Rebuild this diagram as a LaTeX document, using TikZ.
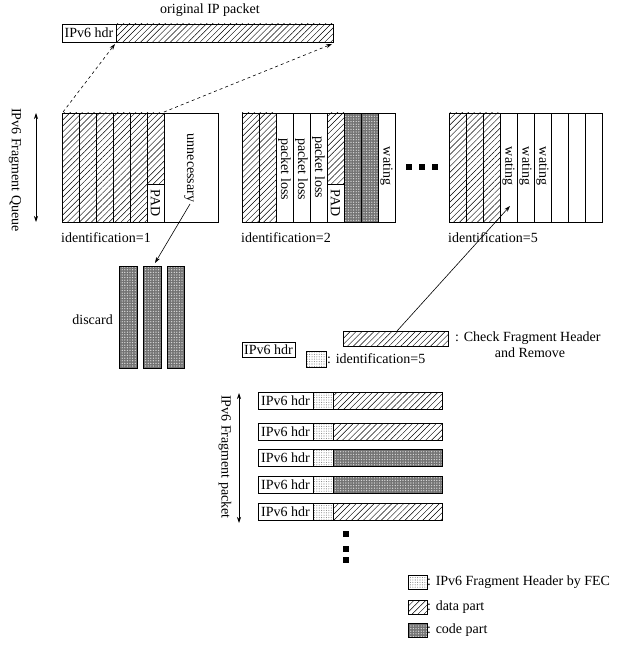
\documentclass[tikz,border=0pt]{standalone}
\usepackage{fontspec}
\setmainfont{Liberation Serif}
\usetikzlibrary{patterns,patterns.meta,arrows.meta}
\tikzset{
  txt/.style={inner sep=0pt,font=\fontsize{14}{16}\selectfont},
  rtxt/.style={txt,rotate=-90},
  box/.style={draw,line width=0.7pt},
  data/.style={box,pattern={Lines[angle=45,distance=4.2pt,line width=0.45pt]}},
  code/.style={box,preaction={fill=black!55},pattern={Dots[distance=2.6pt,radius=0.7pt]},pattern color=gray!30},
  fhdr/.style={box,pattern={Dots[distance=2.4pt,radius=0.55pt]},pattern color=gray!95},
  plain/.style={box,fill=white},
  sq/.style={fill=black,inner sep=0pt,minimum size=6pt},
  arr/.style={-{Stealth[length=6pt,width=4pt]},line width=0.6pt},
  darr/.style={arr,dashed},
  varr/.style={{Stealth[length=6pt,width=4pt]}-{Stealth[length=6pt,width=4pt]},line width=0.7pt}
}
\begin{document}
\begin{tikzpicture}[x=1pt,y=-1pt]
\useasboundingbox (0,0) rectangle (624,652);
% ---- original packet
\node[txt] (orig) at (210,10) {original IP packet};
\draw[plain] (62,24) rectangle (116,42);
\draw[data] (116,24) rectangle (333,42);
\node[txt] (ohdr) at (89,33) {IPv6 hdr};
\coordinate (ohdrc) at (115,44);
\coordinate (oend) at (332,44);
% ---- queue 1
\def\w{17}
\foreach \i in {0,...,4} {\draw[data] ({62+\i*\w},113) rectangle ({62+(\i+1)*\w},222);}
\draw[data] ({62+5*\w},113) rectangle ({62+6*\w},184);
\draw[plain] ({62+5*\w},184) rectangle ({62+6*\w},222);
\node[rtxt] (pad1) at ({62+5.5*\w},203) {PAD};
\draw[box] (62,113) rectangle (218,222);
\node[rtxt] (unn) at (189,168) {unnecessary};
\coordinate (q1a) at (63,112);
\coordinate (q1b) at ({62+6*\w},112);
\node[txt,anchor=west] (id1) at (61,238) {identification=1};
% queue label
\coordinate (qtop) at (36,113);
\coordinate (qbot) at (36,222);
\draw[varr] (qtop) -- (qbot);
\node[rtxt] (qlab) at (15,170) {IPv6 Fragment Queue};
% ---- queue 2
\def\xb{242}
\foreach \i in {0,1} {\draw[data] ({\xb+\i*\w},113) rectangle ({\xb+(\i+1)*\w},222);}
\foreach \i in {2,3,4,8} {\draw[plain] ({\xb+\i*\w},113) rectangle ({\xb+(\i+1)*\w},222);}
\draw[data] ({\xb+5*\w},113) rectangle ({\xb+6*\w},184);
\draw[plain] ({\xb+5*\w},184) rectangle ({\xb+6*\w},222);
\foreach \i in {6,7} {\draw[code] ({\xb+\i*\w},113) rectangle ({\xb+(\i+1)*\w},222);}
\node[rtxt] (pad2) at ({\xb+5.5*\w},203) {PAD};
\node[rtxt] (pl1) at ({\xb+2.5*\w},169) {packet loss};
\node[rtxt] (pl2) at ({\xb+3.5*\w},169) {packet loss};
\node[rtxt] (pl3) at ({\xb+4.5*\w},167) {packet loss};
\node[rtxt] (wt2) at ({\xb+8.5*\w},166) {wating};
\node[txt,anchor=west] (id2) at (241,238) {identification=2};
% dots
\node[sq] (d1) at (408.5,167) {};
\node[sq] (d2) at (421.5,167) {};
\node[sq] (d3) at (435,167) {};
% ---- queue 5
\def\xc{449}
\foreach \i in {0,1,2} {\draw[data] ({\xc+\i*\w},113) rectangle ({\xc+(\i+1)*\w},222);}
\foreach \i in {3,...,8} {\draw[plain] ({\xc+\i*\w},113) rectangle ({\xc+(\i+1)*\w},222);}
\node[rtxt] (wt5a) at ({\xc+3.5*\w},166) {wating};
\node[rtxt] (wt5b) at ({\xc+4.5*\w},166) {wating};
\node[rtxt] (wt5c) at ({\xc+5.5*\w},166) {wating};
\node[txt,anchor=west] (id5) at (448,238) {identification=5};
\coordinate (q5t) at (510,206);
% ---- dashed arrows
\draw[darr] (q1a) -- (ohdrc);
\draw[darr] (q1b) -- (oend);
% ---- discard
\draw[code] (119,266) rectangle (137,368);
\draw[code] (143,266) rectangle (161,368);
\draw[code] (167,266) rectangle (184,368);
\coordinate (disc) at (155,263);
\node[txt,anchor=east] (dlab) at (113,320) {discard};
\coordinate (unnend) at (190,204);
\draw[arr] (unnend) -- (disc);
% ---- check fragment header
\draw[data] (343,331) rectangle (448,346);
\coordinate (chk) at (397,331);
\draw[arr] (chk) -- (q5t);
\node[txt,anchor=west] (chkl) at (455,338) {: Check Fragment Header};
\node[txt] (chkl2) at (530,353) {and Remove};
\draw[plain] (242,342) rectangle (295,357);
\node[txt] (h0) at (268.5,349.5) {IPv6 hdr};
\draw[fhdr] (306,351) rectangle (326,367);
\node[txt,anchor=west] (idl) at (327,359) {: identification=5};
% ---- fragment packets
\foreach \y/\t in {392/data,423/data,449/code,476/code,503/data} {
  \draw[plain] (258,\y) rectangle (313,\y+17);
  \node[txt] at (285.5,\y+8.5) {IPv6 hdr};
  \draw[fhdr] (313,\y) rectangle (333,\y+17);
  \draw[\t] (333,\y) rectangle (442,\y+17);
}
\coordinate (ptop) at (239,393);
\coordinate (pbot) at (239,523);
\draw[varr] (ptop) -- (pbot);
\node[rtxt] (plab) at (225,457) {IPv6 Fragment packet};
\node[sq] (e1) at (345.5,534) {};
\node[sq] (e2) at (345.5,548.5) {};
\node[sq] (e3) at (345.5,560) {};
% ---- legend
\draw[fhdr] (408,575) rectangle (427,589);
\node[txt,anchor=west] (lg1) at (427,582.5) {: IPv6 Fragment Header by FEC};
\draw[data] (408,600) rectangle (427,614);
\node[txt,anchor=west] (lg2) at (427,607) {: data part};
\draw[code] (408,623) rectangle (427,637);
\node[txt,anchor=west] (lg3) at (427,630) {: code part};
\end{tikzpicture}
\end{document}
